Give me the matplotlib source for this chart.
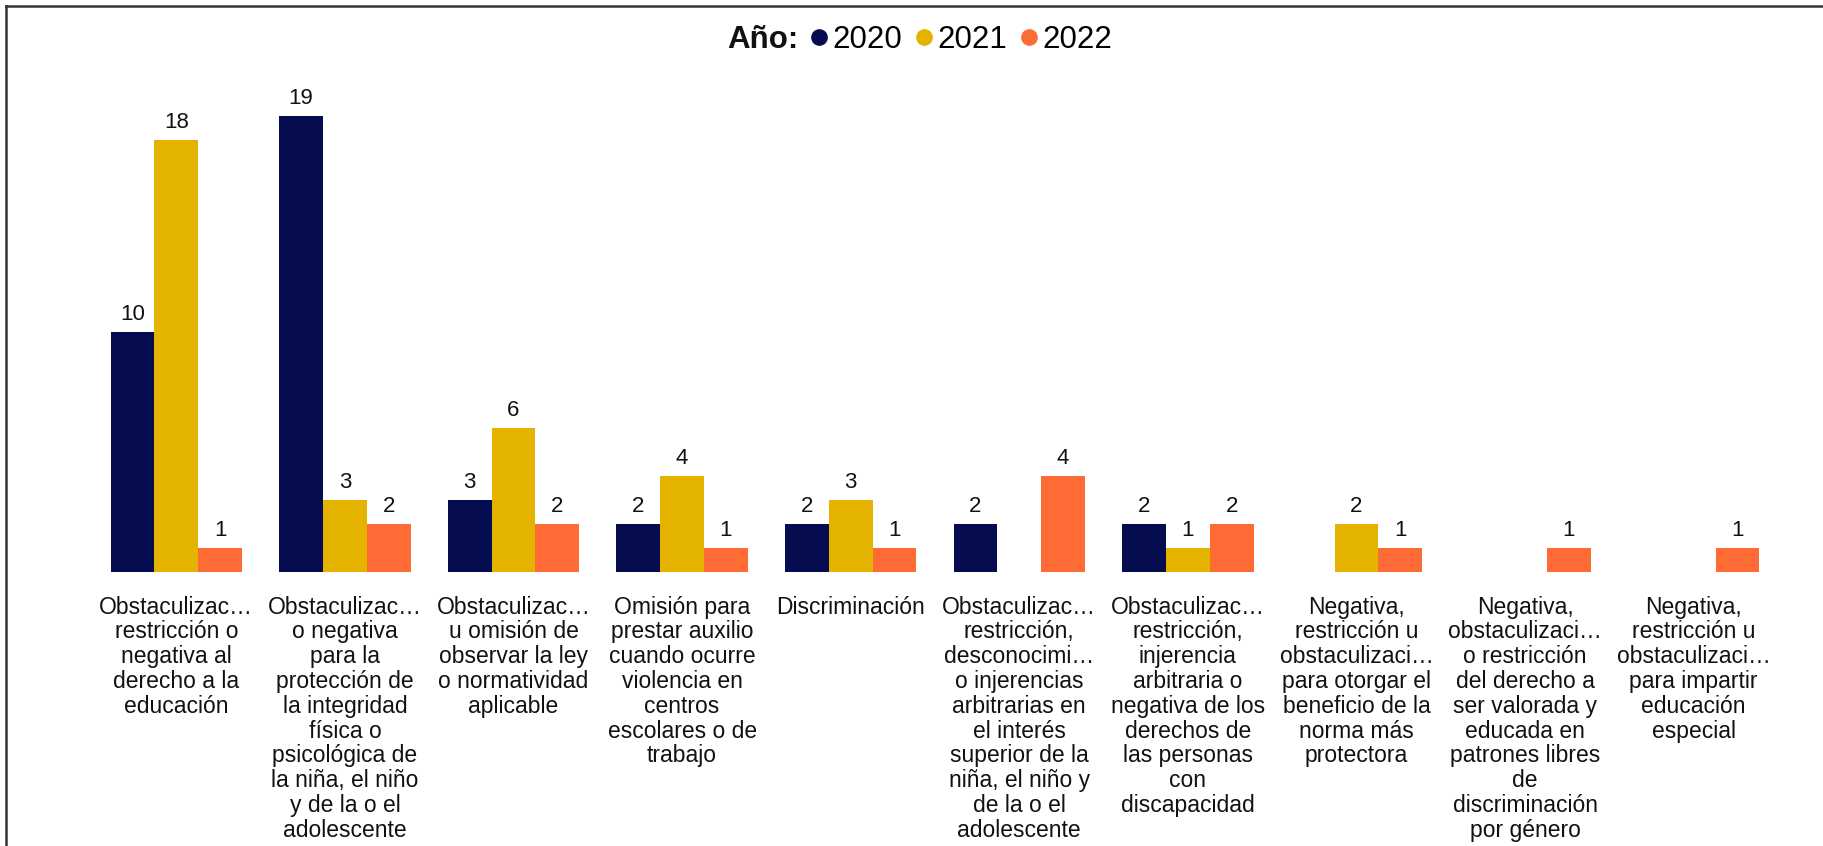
import numpy as np
import matplotlib
matplotlib.use("Agg")
import matplotlib.pyplot as plt
from matplotlib.lines import Line2D

plt.rcParams['font.family'] = ['Liberation Sans', 'DejaVu Sans']

categories = [
    "Obstaculizac…\nrestricción o\nnegativa al\nderecho a la\neducación",
    "Obstaculizac…\no negativa\npara la\nprotección de\nla integridad\nfísica o\npsicológica de\nla niña, el niño\ny de la o el\nadolescente",
    "Obstaculizac…\nu omisión de\nobservar la ley\no normatividad\naplicable",
    "Omisión para\nprestar auxilio\ncuando ocurre\nviolencia en\ncentros\nescolares o de\ntrabajo",
    "Discriminación",
    "Obstaculizac…\nrestricción,\ndesconocimi…\no injerencias\narbitrarias en\nel interés\nsuperior de la\nniña, el niño y\nde la o el\nadolescente",
    "Obstaculizac…\nrestricción,\ninjerencia\narbitraria o\nnegativa de los\nderechos de\nlas personas\ncon\ndiscapacidad",
    "Negativa,\nrestricción u\nobstaculizaci…\npara otorgar el\nbeneficio de la\nnorma más\nprotectora",
    "Negativa,\nobstaculizaci…\no restricción\ndel derecho a\nser valorada y\neducada en\npatrones libres\nde\ndiscriminación\npor género",
    "Negativa,\nrestricción u\nobstaculizaci…\npara impartir\neducación\nespecial",
]
years = ["2020", "2021", "2022"]
v2020 = [10, 19, 3, 2, 2, 2, 2, None, None, None]
v2021 = [18, 3, 6, 4, 3, None, 1, 2, None, None]
v2022 = [1, 2, 2, 1, 1, 4, 2, 1, 1, 1]
colors = ["#050C50", "#E3B300", "#FF6B35"]

series = [v2020, v2021, v2022]

fig = plt.figure(figsize=(18.24, 8.46), dpi=100)
ax = fig.add_axes([92 / 1824, (846 - 572) / 846, 1686 / 1824, 480 / 846])

x = np.arange(len(categories))
w = 0.26
for k, (vals, col) in enumerate(zip(series, colors)):
    arr = np.array([np.nan if v is None else v for v in vals], dtype=float)
    pos = x + (k - 1) * w
    mask = ~np.isnan(arr)
    ax.bar(pos[mask], arr[mask], width=w, color=col, linewidth=0)
    for px, val in zip(pos[mask], arr[mask]):
        ax.annotate(f"{int(val)}", (px, val), xytext=(0, 8.6), textcoords="offset points",
                    ha="center", va="baseline", fontsize=16, color="#111111")

ax.set_xlim(-0.5, len(categories) - 0.5)
ax.set_ylim(0, 20)
ax.set_yticks([])
ax.set_xticks(x)
ax.set_xticklabels(categories, fontsize=16.5, color="#111111")
for lab in ax.get_xticklabels():
    lab.set_linespacing(1.1)
    lab.set_verticalalignment("top")
ax.tick_params(axis="x", length=0, pad=17)
for s in ax.spines.values():
    s.set_visible(False)

# legend
fig.text(798 / 1824, 1 - 40 / 846, "Año:", ha="right", va="center", fontsize=22.5,
         fontweight="bold", color="#111111")
handles = [Line2D([], [], marker="o", linestyle="none", markersize=11,
                  markerfacecolor=c, markeredgecolor=c) for c in colors]
fig.legend(handles, years, loc="center left", bbox_to_anchor=(810 / 1824, 1 - 40 / 846),
           ncol=3, frameon=False, fontsize=22.5, handlelength=0.6, handletextpad=0.12,
           columnspacing=0.4, borderpad=0, borderaxespad=0)

# frame lines (top and left)
fig.add_artist(Line2D([6.5 / 1824, 1], [1 - 6.5 / 846, 1 - 6.5 / 846],
                      transform=fig.transFigure, color="#333333", linewidth=1.8))
fig.add_artist(Line2D([6.5 / 1824, 6.5 / 1824], [0, 1 - 6.5 / 846],
                      transform=fig.transFigure, color="#333333", linewidth=1.8))

fig.savefig("out.png", dpi=100, facecolor="white")
